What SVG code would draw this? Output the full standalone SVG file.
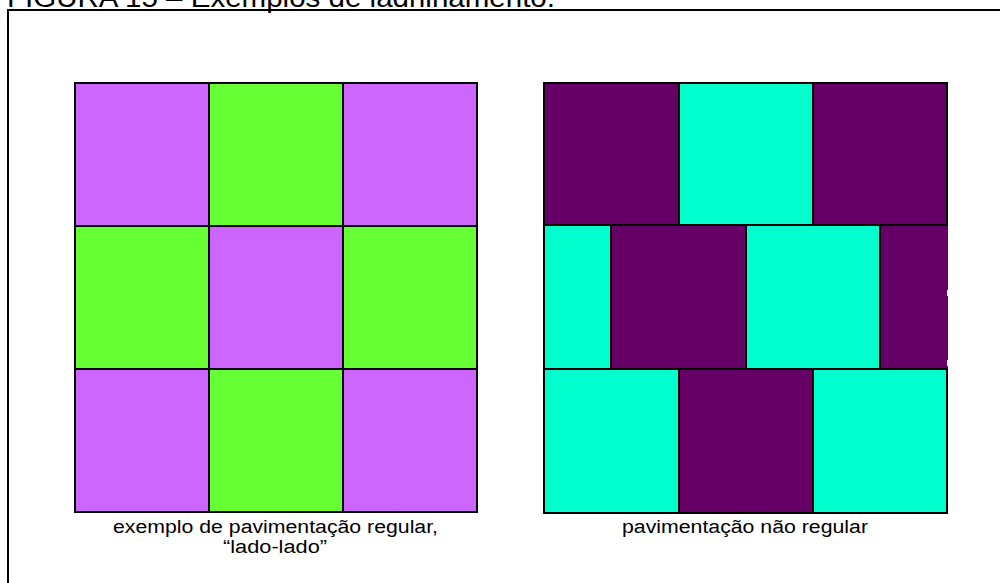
<svg xmlns="http://www.w3.org/2000/svg" width="1000" height="583" viewBox="0 0 1000 583">
<style>
.t{stroke:#000;stroke-width:2}
.lp{fill:#CC66FF}
.lg{fill:#66FF33}
.dp{fill:#660066}
.cy{fill:#00FFCC}
text{font-family:"Liberation Sans",Arial,sans-serif;fill:#000}
</style>
<rect width="1000" height="583" fill="#fff"/>
<text x="7" y="7" font-size="27" textLength="548" lengthAdjust="spacingAndGlyphs">FIGURA 15 – Exemplos de ladrilhamento.</text>
<rect x="8" y="10" width="1010" height="600" fill="none" stroke="#000" stroke-width="2"/>
<g id="regular">
<rect class="t lp" x="75" y="83" width="134" height="143"/>
<rect class="t lg" x="209" y="83" width="134" height="143"/>
<rect class="t lp" x="343" y="83" width="134" height="143"/>
<rect class="t lg" x="75" y="226" width="134" height="143"/>
<rect class="t lp" x="209" y="226" width="134" height="143"/>
<rect class="t lg" x="343" y="226" width="134" height="143"/>
<rect class="t lp" x="75" y="369" width="134" height="143"/>
<rect class="t lg" x="209" y="369" width="134" height="143"/>
<rect class="t lp" x="343" y="369" width="134" height="143"/>
</g>
<g id="irregular">
<rect class="t dp" x="544" y="83" width="135" height="142"/>
<rect class="t cy" x="679" y="83" width="134" height="142"/>
<rect class="t dp" x="813" y="83" width="134" height="142"/>
<rect class="t cy" x="544" y="225" width="67" height="144"/>
<rect class="t dp" x="611" y="225" width="135" height="144"/>
<rect class="t cy" x="746" y="225" width="134" height="144"/>
<path class="dp" d="M880 225H948V369H880Z"/>
<path d="M880 225H948M880 369H948M880 225V369" fill="none" stroke="#000" stroke-width="2"/>
<rect x="947" y="290" width="2" height="6" fill="#fff"/>
<rect x="947" y="360" width="2" height="6" fill="#fff"/>
<rect class="t cy" x="544" y="369" width="135" height="144"/>
<rect class="t dp" x="679" y="369" width="134" height="144"/>
<rect class="t cy" x="813" y="369" width="134" height="144"/>
</g>
<g id="captions">
<text x="275.5" y="533" font-size="18" text-anchor="middle" textLength="325" lengthAdjust="spacingAndGlyphs">exemplo de pavimentação regular,</text>
<text x="275" y="553" font-size="18" text-anchor="middle" textLength="104" lengthAdjust="spacingAndGlyphs">“lado-lado”</text>
<text x="745" y="533" font-size="18" text-anchor="middle" textLength="246" lengthAdjust="spacingAndGlyphs">pavimentação não regular</text>
</g>
</svg>
